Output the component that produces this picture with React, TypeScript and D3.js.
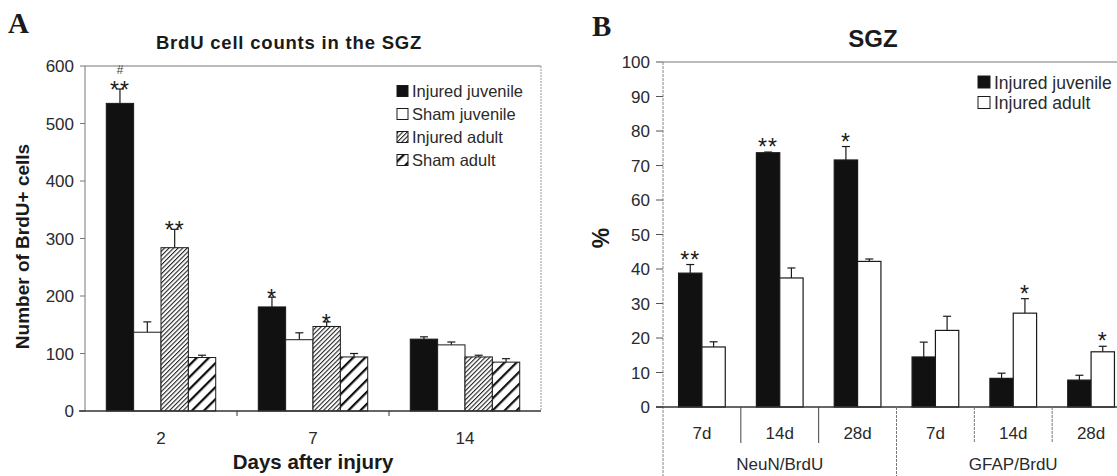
import * as d3 from "d3";

// panel A: BrdU cell counts
const daysA = ["2", "7", "14"];
const seriesA = ["Injured juvenile", "Sham juvenile", "Injured adult", "Sham adult"];
const injJuvA = [535, 181, 125];
const injJuvErrA = [25, 17, 4];
const shamJuvA = [137, 124, 115];
const shamJuvErrA = [18, 12, 5];
const injAdA = [284, 147, 94];
const injAdErrA = [32, 8, 3];
const shamAdA = [93, 94, 85];
const shamAdErrA = [4, 6, 6];
const injJuvSigA = ["**", "*", ""];
const injAdSigA = ["**", "*", ""];
const ticksA = [0, 100, 200, 300, 400, 500, 600];

// panel B: % double labelled
const catsB = ["7d", "14d", "28d", "7d", "14d", "28d"];
const groupsB = ["NeuN/BrdU", "GFAP/BrdU"];
const seriesB = ["Injured juvenile", "Injured adult"];
const injJuvB = [38.8, 73.7, 71.6, 14.5, 8.3, 7.8];
const injJuvErrB = [2.5, 0.2, 3.9, 4.3, 1.5, 1.4];
const injAdB = [17.4, 37.4, 42.2, 22.2, 27.2, 16.0];
const injAdErrB = [1.5, 2.9, 0.7, 4.1, 4.2, 1.6];
const injJuvSigB = ["**", "**", "*", "", "", ""];
const injAdSigB = ["", "", "", "", "*", "*"];
const ticksB = [0, 10, 20, 30, 40, 50, 60, 70, 80, 90, 100];

const font = "'Liberation Sans', Arial, sans-serif";
const serif = "'Liberation Serif', 'Times New Roman', serif";
const ink = "#1a1a1a";

const fillsA = ["#111", "#fff", "url(#hatchFine)", "url(#hatchWide)"];
const fillsB = ["#111", "#fff"];

function ErrBar({ x, y0, y1, w }: { x: number; y0: number; y1: number; w: number }) {
  return (
    <g stroke={ink} strokeWidth={1.2}>
      <line x1={x} x2={x} y1={y0} y2={y1} />
      <line x1={x - w / 2} x2={x + w / 2} y1={y1} y2={y1} />
    </g>
  );
}

function PanelA() {
  const left = 85, right = 541, top = 66, bottom = 411;
  const x = d3.scaleBand<string>().domain(daysA).range([left, right]).paddingInner(0.28).paddingOuter(0.14);
  const inner = d3.scaleBand<string>().domain(seriesA).range([0, x.bandwidth()]);
  const y = d3.scaleLinear().domain([0, 600]).range([bottom, top]);
  const vals = [injJuvA, shamJuvA, injAdA, shamAdA];
  const errs = [injJuvErrA, shamJuvErrA, injAdErrA, shamAdErrA];
  const sigs = [injJuvSigA, null, injAdSigA, null];
  const step = x.step();

  return (
    <g fontFamily={font} fill={ink}>
      <text x={8} y={33} fontFamily={serif} fontWeight="bold" fontSize={29}>A</text>
      <text x={289} y={49} textAnchor="middle" fontWeight="bold" fontSize={18.5} letterSpacing={0.8}>
        BrdU cell counts in the SGZ
      </text>
      <text transform={`translate(29,${(top + bottom) / 2 + 8}) rotate(-90)`} textAnchor="middle" fontWeight="bold" fontSize={19}>
        Number of BrdU+ cells
      </text>
      <text x={313} y={469} textAnchor="middle" fontWeight="bold" fontSize={20.5}>Days after injury</text>

      {/* frame */}
      <line x1={left} x2={right} y1={top} y2={top} stroke="#777" strokeWidth={1} />
      <line x1={right} x2={right} y1={top} y2={bottom} stroke="#999" strokeWidth={1} strokeDasharray="2,1" />
      <line x1={left} x2={left} y1={top} y2={bottom} stroke="#777" strokeWidth={1} />

      {ticksA.map((t) => (
        <g key={t}>
          <line x1={left - 5} x2={left} y1={y(t)} y2={y(t)} stroke="#777" />
          <text x={left - 11} y={y(t) + 6} textAnchor="end" fontSize={17} fill="#2a2a2a">{t}</text>
        </g>
      ))}

      {daysA.map((d, i) => (
        <g key={d}>
          {seriesA.map((s, j) => {
            const bx = (x(d) as number) + (inner(s) as number);
            const bw = inner.bandwidth();
            const v = vals[j][i];
            const e = errs[j][i];
            const cx = bx + bw / 2;
            const sig = sigs[j] ? sigs[j]![i] : "";
            return (
              <g key={s}>
                <ErrBar x={cx} y0={y(v)} y1={y(v + e)} w={8} />
                <rect x={bx} y={y(v)} width={bw} height={y(0) - y(v)} fill={fillsA[j]} stroke={ink} strokeWidth={1} />
                {sig && (
                  <text x={cx} y={y(v + e) + 9} textAnchor="middle" fontSize={23} letterSpacing={1}>{sig}</text>
                )}
                {i === 0 && j === 0 && (
                  <text x={cx} y={y(v + e) - 15} textAnchor="middle" fontSize={12} fontStyle="italic" fill="#444">#</text>
                )}
              </g>
            );
          })}
          <text x={(x(d) as number) + x.bandwidth() / 2} y={444} textAnchor="middle" fontSize={17} fill="#2a2a2a">{d}</text>
        </g>
      ))}

      {/* x axis */}
      <line x1={left - 6} x2={right} y1={bottom} y2={bottom} stroke="#333" strokeWidth={1.3} />
      {[1, 2].map((k) => (
        <line key={k} x1={left + k * step} x2={left + k * step} y1={bottom} y2={bottom + 5} stroke="#333" />
      ))}

      {/* legend */}
      {seriesA.map((s, j) => (
        <g key={s} transform={`translate(397,${91 + j * 23})`}>
          <rect x={0} y={-5.5} width={11} height={11} fill={fillsA[j]} stroke={ink} strokeWidth={1} />
          <text x={15} y={6} fontSize={16.5} fill="#2a2a2a">{s}</text>
        </g>
      ))}
    </g>
  );
}

function PanelB() {
  const left = 663, right = 1130, top = 62, bottom = 407;
  const idx = catsB.map((_, i) => String(i));
  const x = d3.scaleBand<string>().domain(idx).range([left, right]).paddingInner(0.4).paddingOuter(0.2);
  const inner = d3.scaleBand<string>().domain(seriesB).range([0, x.bandwidth()]);
  const y = d3.scaleLinear().domain([0, 100]).range([bottom, top]);
  const vals = [injJuvB, injAdB];
  const errs = [injJuvErrB, injAdErrB];
  const sigs = [injJuvSigB, injAdSigB];
  const step = x.step();

  return (
    <g fontFamily={font} fill={ink}>
      <text x={592} y={36} fontFamily={serif} fontWeight="bold" fontSize={29}>B</text>
      <text x={873} y={47} textAnchor="middle" fontWeight="bold" fontSize={24}>SGZ</text>
      <text transform={`translate(609,238) rotate(-90)`} textAnchor="middle" fontWeight="bold" fontSize={23}>%</text>

      <line x1={left} x2={right} y1={top} y2={top} stroke="#777" strokeWidth={1} />
      <line x1={left} x2={left} y1={top} y2={476} stroke="#888" strokeWidth={1} strokeDasharray="3,1" />

      {ticksB.map((t) => (
        <g key={t}>
          <line x1={left - 7} x2={left} y1={y(t)} y2={y(t)} stroke="#555" />
          <text x={left - 13} y={y(t) + 6} textAnchor="end" fontSize={17} fill="#2a2a2a">{t}</text>
        </g>
      ))}

      {idx.map((d, i) => (
        <g key={d}>
          {seriesB.map((s, j) => {
            const bx = (x(d) as number) + (inner(s) as number);
            const bw = inner.bandwidth();
            const v = vals[j][i];
            const e = errs[j][i];
            const cx = bx + bw / 2;
            const sig = sigs[j][i];
            return (
              <g key={s}>
                <ErrBar x={cx} y0={y(v)} y1={y(v + e)} w={8} />
                <rect x={bx} y={y(v)} width={bw} height={y(0) - y(v)} fill={fillsB[j]} stroke={ink} strokeWidth={1.2} />
                {sig && (
                  <text x={cx} y={y(v + e) + 3} textAnchor="middle" fontSize={23} letterSpacing={1}>{sig}</text>
                )}
              </g>
            );
          })}
          <text x={(x(d) as number) + x.bandwidth() / 2} y={439} textAnchor="middle" fontSize={17} fill="#2a2a2a">{catsB[i]}</text>
        </g>
      ))}

      <line x1={left - 7} x2={right} y1={bottom} y2={bottom} stroke="#333" strokeWidth={1.3} />
      {[1, 2, 3, 4, 5].map((k) => (
        <line
          key={k}
          x1={left + k * step}
          x2={left + k * step}
          y1={bottom}
          y2={k === 3 ? 476 : bottom + 36}
          stroke={k < 3 ? "#444" : "#777"}
          strokeDasharray={k < 3 ? undefined : "3,1"}
        />
      ))}
      {groupsB.map((g, k) => (
        <text key={g} x={left + (k * 3 + 1.5) * step} y={470} textAnchor="middle" fontSize={17} fill="#2a2a2a">{g}</text>
      ))}

      {seriesB.map((s, j) => (
        <g key={s} transform={`translate(978,${82 + j * 20.5})`}>
          <rect x={0} y={-6} width={12} height={12} fill={fillsB[j]} stroke={ink} strokeWidth={1} />
          <text x={16} y={6.5} fontSize={17.5} fill="#2a2a2a">{s}</text>
        </g>
      ))}
    </g>
  );
}

export default function App() {
  return (
    <svg width={1117} height={476} style={{ position: "absolute", left: 0, top: 0, background: "#fff" }}>
      <defs>
        <pattern id="hatchFine" patternUnits="userSpaceOnUse" width={3.2} height={3.2} patternTransform="rotate(45)">
          <rect width={3.2} height={3.2} fill="#fff" />
          <line x1={0} y1={0} x2={0} y2={3.2} stroke="#222" strokeWidth={2.2} />
        </pattern>
        <pattern id="hatchWide" patternUnits="userSpaceOnUse" width={8.5} height={8.5} patternTransform="rotate(45)">
          <rect width={8.5} height={8.5} fill="#fff" />
          <line x1={0} y1={0} x2={0} y2={8.5} stroke="#111" strokeWidth={4.5} />
        </pattern>
      </defs>
      <PanelA />
      <PanelB />
    </svg>
  );
}
